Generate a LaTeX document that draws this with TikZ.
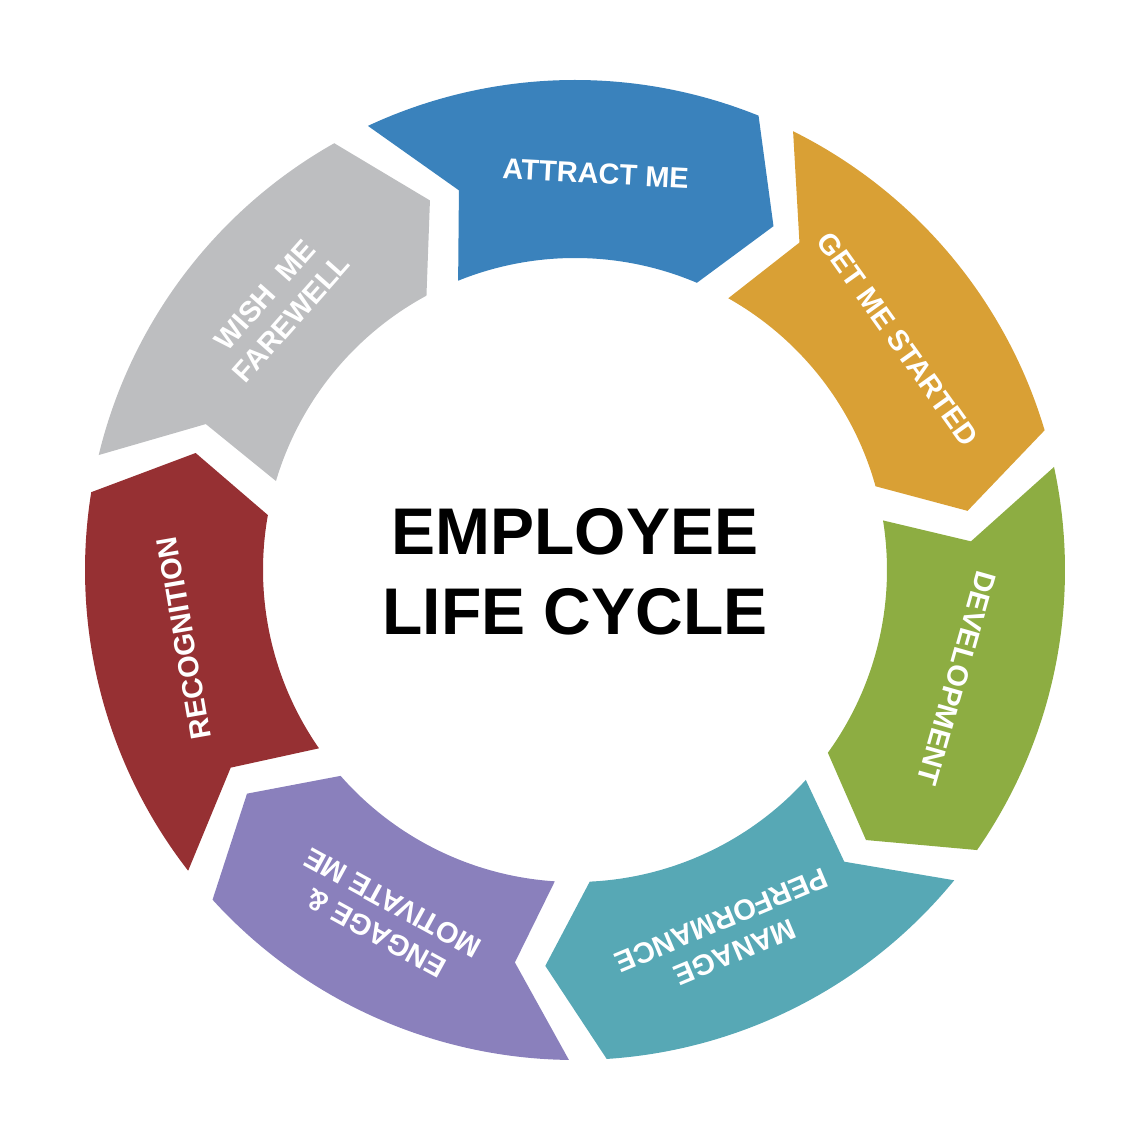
\documentclass[tikz,border=0pt]{standalone}
\usepackage{fontspec}
\setmainfont{Liberation Sans}
\definecolor{attract}{HTML}{3A82BC}
\definecolor{started}{HTML}{D9A035}
\definecolor{develop}{HTML}{8DAD42}
\definecolor{manage}{HTML}{57A8B5}
\definecolor{engage}{HTML}{8A80BC}
\definecolor{recogn}{HTML}{963033}
\definecolor{farewell}{HTML}{BDBEC0}
\tikzset{
  steplabel/.style={text=white,font=\bfseries\fontsize{29}{35}\selectfont,align=center,inner sep=1pt},
  centerlabel/.style={font=\bfseries\fontsize{66}{80}\selectfont,align=center}
}
\begin{document}
\begin{tikzpicture}[x=1pt,y=1pt]
  \useasboundingbox (-575,-572) rectangle (565,570);
  \def\ro{490}
  \def\ri{312}
  \def\rm{397}
  \foreach \s/\col/\txt [count=\i] in {115/attract/{ATTRACT ME},
      63.57/started/{GET ME STARTED},
      12.14/develop/{DEVELOPMENT},
      -39.29/manage/{MANAGE\\PERFORMANCE},
      -90.71/engage/{ENGAGE \&\\MOTIVATE ME},
      -142.14/recogn/{RECOGNITION},
      166.43/farewell/{WISH\ \ ME\\FAREWELL}}{
    \fill[\col] (\s:\ro) arc[start angle=\s, end angle={\s-47}, radius=\ro]
      -- ({\s-55}:\rm) -- ({\s-48}:\ri)
      arc[start angle={\s-48}, end angle={\s-3}, radius=\ri]
      -- ({\s-8}:\rm) -- cycle;
    \node[steplabel,rotate={\s-28-90}] (step\i) at ({\s-28}:\rm) {\txt};
  }
  \node[centerlabel] (title) at (0,-2) {EMPLOYEE\\LIFE CYCLE};
\end{tikzpicture}
\end{document}
